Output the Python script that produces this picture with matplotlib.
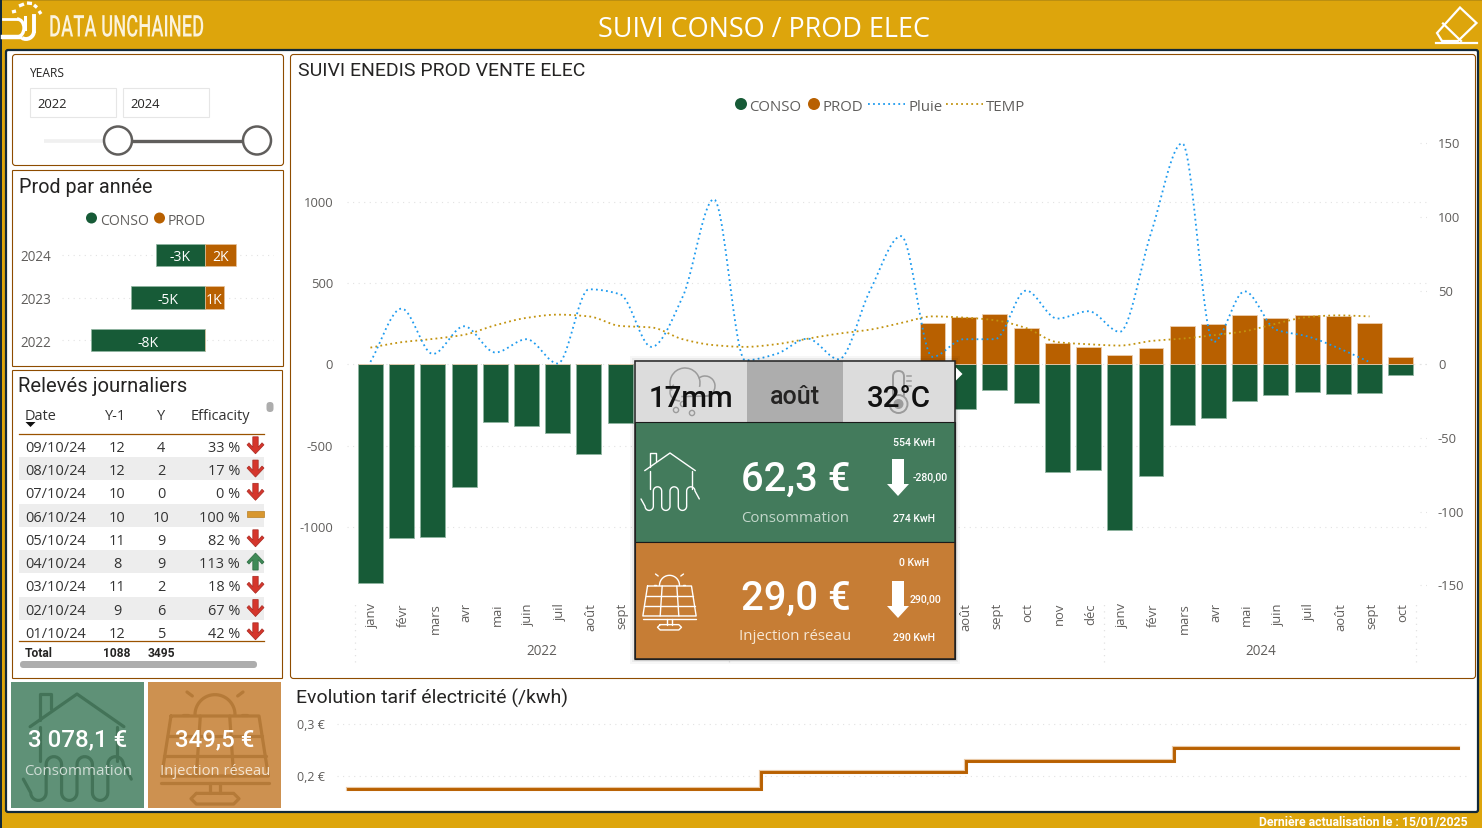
#!/usr/bin/env python3
"""
Suivi conso / prod elec dashboard
"""

import numpy as np
import pandas as pd
import matplotlib
matplotlib.use("Agg")
import matplotlib.pyplot as plt
import matplotlib.dates as mdates
import matplotlib.patheffects as pe
from matplotlib.patches import Rectangle, FancyBboxPatch, Circle, Arc, Polygon
from matplotlib.transforms import Affine2D, ScaledTranslation

W, H = 1482, 829

# main chart data
months = ["janv", "févr", "mars", "avr", "mai", "juin", "juil", "août", "sept", "oct", "nov", "déc"] * 2 + \
         ["janv", "févr", "mars", "avr", "mai", "juin", "juil", "août", "sept", "oct"]
conso = [-1347, -1070, -1064, -756, -357, -381, -424, -553, -363, -380, -600, -705,
         -900, -750, -520, -340, -260, -230, -200, -274, -160, -240, -664, -652,
         -1020, -689, -375, -332, -228, -191, -172, -185, -178, -68]
prod = [0, 0, 0, 0, 0, 0, 0, 0, 0, 0, 0, 0,
        0, 0, 0, 0, 0, 0, 256, 290, 309, 223, 129, 109,
        57, 98, 236, 246, 301, 285, 306, 297, 256, 45]
pluie = [1.6, 37.8, 7, 25.8, 8, 17, 0.5, 50.9, 47.5, 11.8, 45.7, 112,
         2.7, 7, 17.4, 3.4, 50, 87, 5, 17, 17, 50, 31, 36,
         22, 89, 150, 15, 49.5, 23.5, 19, 11, 1.5]
temp = [11.3, 15, 17.2, 20, 26.5, 31.5, 33.7, 32.5, 26, 25, 17, 13,
        11.8, 13.6, 17.4, 20.8, 23.5, 28, 32.5, 31.7, 29.9, 24.6, 15, 13.6,
        12.7, 15.8, 17.4, 19.7, 22.4, 27.6, 32, 33.2, 32.5]
# months whose axis labels sit under the tooltip in the picture
hidden_months = range(9, 19)
year_labels = ["2022", "2024"]
year_spans = [(-0.5, 11.5), (23.5, 33.5)]
year_seps = [-0.5, 11.5, 23.5, 33.5]
left_ticks = [-1000, -500, 0, 500, 1000]
right_ticks = [-150, -100, -50, 0, 50, 100, 150]

# prod par année
years = ["2022", "2023", "2024"]
year_conso = [-8000, -5190, -3438]
year_prod = [0, 1333, 2175]
year_conso_labels = ["-8K", "-5K", "-3K"]
year_prod_labels = ["", "1K", "2K"]

# relevés journaliers
dates = ["09/10/24", "08/10/24", "07/10/24", "06/10/24", "05/10/24", "04/10/24", "03/10/24", "02/10/24", "01/10/24"]
y_prev = [12, 12, 10, 10, 11, 8, 11, 9, 12]
y_cur = [4, 2, 0, 10, 9, 9, 2, 6, 5]
effic = [33, 17, 0, 100, 82, 113, 18, 67, 42]

# tarif
tarif_dates = ["2022-02-01", "2023-02-01", "2023-08-01", "2024-02-01", "2024-10-09"]
tarif_values = [0.175, 0.2065, 0.229, 0.2525, 0.2525]

GOLD = "#DDA50C"
FRAME = "#12293A"
BROWN = "#8E4C00"
GREEN = "#175B37"
ORANGE = "#B86000"
GREY = "#605E5C"
LIGHT = "#E2E2E2"
RAIN = "#1E9BEF"
TEMP = "#C2930F"
DIN = ["Roboto", "DejaVu Sans"]
SEGOE = ["Open Sans", "DejaVu Sans"]
DOTS = (0, (1, 1.8))


class Squeeze(pe.AbstractPathEffect):
    """narrow a text around x0, there is no condensed font installed"""

    def __init__(self, x0, sx):
        super().__init__()
        self.x0, self.sx = x0, sx

    def draw_path(self, renderer, gc, tpath, affine, rgbFace=None):
        narrow = Affine2D().translate(-self.x0, 0).scale(self.sx, 1).translate(self.x0, 0)
        renderer.draw_path(gc, tpath, affine + narrow, rgbFace)


def px_axes(fig, left, top, right, bottom, zorder=1):
    """axes placed by pixel box"""
    ax = fig.add_axes([left / W, 1 - bottom / H, (right - left) / W, (bottom - top) / H], zorder=zorder)
    ax.patch.set_alpha(0)
    return ax


def txt(ax, x, y, s, size, color="#252423", ha="center", family=SEGOE, weight="normal", **kw):
    return ax.text(x, y, s, fontsize=size * 0.72, color=color, ha=ha, va="center_baseline",
                   family=family, fontweight=weight, **kw)


def raise_labels(fig, labels, dy=1.0):
    """tick labels sit a pixel high in the picture"""
    up = ScaledTranslation(0, dy / 100, fig.dpi_scale_trans)
    for label in labels:
        label.set_transform(label.get_transform() + up)


def smooth(values):
    """monotone cubic through the monthly values, for the smoothed lines"""
    y = np.asarray(values, dtype=float)
    x = np.arange(len(y))
    d = np.diff(y)
    m = np.zeros(len(y))
    for i in range(1, len(y) - 1):
        if d[i - 1] * d[i] > 0:
            m[i] = 2 * d[i - 1] * d[i] / (d[i - 1] + d[i])
    m[0], m[-1] = d[0], d[-1]
    xs, ys = [], []
    for i in range(len(y) - 1):
        t = np.linspace(0, 1, 24, endpoint=False)
        ys.append((2*t**3 - 3*t**2 + 1) * y[i] + (t**3 - 2*t**2 + t) * m[i]
                  + (-2*t**3 + 3*t**2) * y[i + 1] + (t**3 - t**2) * m[i + 1])
        xs.append(x[i] + t)
    return np.append(np.concatenate(xs), x[-1]), np.append(np.concatenate(ys), y[-1])


def panel(ax, x0, y0, x1, y1, edge=BROWN, face="white", lw=0.8, rounding=3):
    # half pixel so the border stays crisp
    ax.add_patch(FancyBboxPatch((x0 + 0.5, y0 + 0.5), x1 - x0, y1 - y0, boxstyle=f"round,pad=0,rounding_size={rounding}",
                                fc=face, ec=edge, lw=lw))


def house(ax, cx, top, s, color, lw):
    """house with floor heating, local units from the roof apex"""
    def line(px, py):
        ax.plot(cx + np.asarray(px) * s, top + np.asarray(py) * s, color=color, lw=lw, solid_capstyle="round",
                solid_joinstyle="round")
    line([-76, 0, 76], [53, 0, 53])
    line([-60, -60, -42, -42], [42, 0, 0, 25])
    line([-60, -60], [53, 108])
    line([65, 65], [53, 108])
    # snake
    sx, sy = [-87], [138]
    cols = [-75, -50, -25, 0, 25, 50, 75]
    for i in range(6):
        a, b = cols[i], cols[i + 1]
        t = np.linspace(np.pi, 0, 12)
        mid = (a + b) / 2
        if i % 2 == 0:
            sx += list(mid + 12.5 * np.cos(t))
            sy += list(160 + 12.5 * np.sin(t))
        else:
            sx += list(mid + 12.5 * np.cos(t))
            sy += list(114 - 12.5 * np.sin(t))
    sx += [88]
    sy += [138]
    line(sx, sy)


def solar(ax, cx, top, s, color, lw):
    """solar panel, local units from the panel top centre"""
    def line(px, py):
        ax.plot(cx + np.asarray(px) * s, top + np.asarray(py) * s, color=color, lw=lw, solid_capstyle="round",
                solid_joinstyle="round")
    t = np.linspace(np.pi, 2 * np.pi, 30)
    line(30 * np.cos(t), 30 * np.sin(t) - 2)
    line([-48, -40], [-2, -2])
    line([40, 48], [-2, -2])
    line([-42, -34], [-36, -30])
    line([34, 42], [-30, -36])
    line([-66, 66, 80, -80, -66], [0, 0, 90, 90, 0])
    line([-71, 71], [30, 30])
    line([-76, 76], [60, 60])
    line([-81, 81], [100, 100])
    line([-22, -28], [0, 90])
    line([22, 28], [0, 90])
    line([-8, -8], [100, 116])
    line([8, 8], [100, 116])
    line([-28, 28, 36, 28, -28, -36, -28], [116, 116, 124, 132, 132, 124, 116])


def big_arrow(ax, cx, y0, y1, color="white"):
    ax.add_patch(Polygon([(cx - 6, y0), (cx + 6, y0), (cx + 6, y1 - 12), (cx + 11, y1 - 12), (cx, y1),
                          (cx - 11, y1 - 12), (cx - 6, y1 - 12)], fc=color, ec="none"))


def draw_logo(fig, ax):
    for seg in [((12, 13), (16, 12)), ((19, 7), (24, 5)), ((27, 4), (32, 4.5)), ((34, 6), (37, 8.5)), ((39, 12), (41, 15))]:
        ax.plot(*zip(*seg), color="white", lw=2.4, solid_capstyle="butt")
    ax.plot([3, 16], [20, 20], color="white", lw=2.0)
    ax.plot([3, 20], [37.5, 37.5], color="white", lw=3.2)
    ax.add_patch(Arc((17, 29), 14, 18, theta1=-90, theta2=90, color="white", lw=2.4))
    ax.plot([34, 34], [17, 32], color="white", lw=2.8)
    ax.add_patch(Arc((26, 32), 16, 16, theta1=0, theta2=120, color="white", lw=2.8))
    ax.plot([25, 25], [18, 30], color="white", lw=2.2)

    t = txt(ax, 49, 26.5, "DATA UNCHAINED", 30, "#FBF3DC", ha="left", family=DIN, weight="medium")
    width = t.get_window_extent(fig.canvas.get_renderer()).width
    t.set_path_effects([Squeeze(49, 155 / width)])


def draw_frame(fig, ax):
    ax.add_patch(Rectangle((0, 0), W, H, fc=GOLD, ec="none"))
    ax.add_patch(Rectangle((0, 0), W, 1.5, fc="#BC8F10", ec="none"))
    ax.add_patch(Rectangle((0, 0), 2, H, fc=FRAME, ec="none"))
    ax.add_patch(FancyBboxPatch((6, 51), 1472, 762, boxstyle="round,pad=0,rounding_size=2", fc="white", ec=FRAME, lw=1.6))

    draw_logo(fig, ax)
    txt(ax, 764, 26, "SUIVI CONSO / PROD ELEC", 27, "white")

    # eraser
    ax.add_patch(Polygon([(1460, 8.5), (1476.5, 24), (1458, 42), (1442, 42), (1437, 34)],
                         fc="none", ec="white", lw=1.6))
    ax.plot([1443, 1461], [24.5, 42], color="white", lw=1.6)
    ax.plot([1436, 1477], [43.5, 43.5], color="white", lw=1.6)

    txt(ax, 1468, 821, "Dernière actualisation le : 15/01/2025", 12.2, "white", ha="right", family=DIN, weight="bold")


def draw_slicer(ax):
    panel(ax, 12, 55, 283, 166)
    txt(ax, 30, 72, "YEARS", 12, "#252423", ha="left")
    for x0, label in [(29, "2022"), (122, "2024")]:
        ax.add_patch(Rectangle((x0 + 0.5, 88.5), 86, 29, fc="white", ec="#E6E6E6", lw=0.8))
        txt(ax, x0 + 8, 103, label, 13, "#252423", ha="left")
    ax.plot([44, 105], [141.5, 141.5], color="#F0F0F0", lw=2.6, solid_capstyle="butt")
    ax.plot([118, 257], [141.5, 141.5], color=GREY, lw=2.4, solid_capstyle="butt")
    for cx in (118, 257):
        ax.add_patch(Circle((cx, 141.5), 14, fc="white", ec=GREY, lw=1.8, zorder=3))


def draw_prod_panel(fig, ax):
    panel(ax, 12, 171, 283, 367, rounding=0.5)
    txt(ax, 19, 185, "Prod par année", 19.8, "#252423", ha="left", family=DIN)
    ax.add_patch(Circle((91.5, 219), 5.5, fc=GREEN, ec="none"))
    txt(ax, 100, 219, "CONSO", 14, GREY, ha="left")
    ax.add_patch(Circle((159.5, 219), 5.5, fc=ORANGE, ec="none"))
    txt(ax, 168, 219, "PROD", 14, GREY, ha="left")

    bx = px_axes(fig, 62, 235, 274, 362, zorder=2)
    pos = np.arange(len(years))
    bx.barh(pos, year_conso, height=0.53, color=GREEN, edgecolor="#8FB5A0", linewidth=0.5, zorder=3)
    bx.barh(pos, year_prod, height=0.53, color=ORANGE, edgecolor="#E6C29C", linewidth=0.5, zorder=3)
    for i in pos:
        txt(bx, year_conso[i] / 2, i, year_conso_labels[i], 14, "white", zorder=4)
        if year_prod_labels[i]:
            txt(bx, year_prod[i] / 2, i, year_prod_labels[i], 14, "white", zorder=4)
    bx.set_xlim(-10035, 4842)
    bx.set_ylim(-0.494, 2.494)
    bx.set_yticks(pos, years)
    bx.set_xticks([])
    bx.tick_params(axis="y", length=0, pad=7.5, labelsize=13.5 * 0.72, labelcolor=GREY)
    for label in bx.get_yticklabels():
        label.set_family(SEGOE)
    bx.grid(axis="y", color=LIGHT, lw=0.8, ls=(0, (1, 4)), zorder=0)
    bx.set_axisbelow(True)
    for sp in bx.spines.values():
        sp.set_visible(False)


def draw_table(ax):
    panel(ax, 12, 371, 282, 679, rounding=0.5)
    txt(ax, 18, 385, "Relevés journaliers", 20.3, "#252423", ha="left", family=DIN)
    txt(ax, 25, 415, "Date", 14.5, "#333333", ha="left")
    txt(ax, 116, 415, "Y-1", 14.5, "#333333")
    txt(ax, 161, 415, "Y", 14.5, "#333333")
    txt(ax, 220, 415, "Efficacity", 14.5, "#333333")
    ax.add_patch(Polygon([(25.5, 423), (35.5, 423), (30.5, 428)], fc="#111111", ec="none"))
    ax.add_patch(FancyBboxPatch((266.5, 403), 7, 10, boxstyle="round,pad=0,rounding_size=3.4", fc="#ADADAD", ec="none"))
    ax.plot([19, 264], [434.5, 434.5], color="#9A5200", lw=0.9)

    row_y = 446.3
    for i, d in enumerate(dates):
        y = row_y + i * 23.25
        if i % 2 == 1:
            ax.add_patch(Rectangle((19, y - 11.5), 245, 23.2, fc="#EDEDED", ec="none"))
        txt(ax, 25, y, d, 14.5, "#333333", ha="left")
        txt(ax, 117, y, str(y_prev[i]), 14.5, "#333333")
        txt(ax, 161, y, str(y_cur[i]), 14.5, "#333333")
        txt(ax, 240, y, f"{effic[i]} %", 14.5, "#333333", ha="right")
        cx = 255.5
        if effic[i] < 100:
            sign, fc, ec = 1, "#D5362C", "#A82820"
        elif effic[i] > 100:
            sign, fc, ec = -1, "#3F8A57", "#2C6A40"
        else:
            ax.add_patch(Rectangle((246.5, y - 4), 17.5, 5.5, fc="#D8972F", ec="#B87F25", lw=0.5))
            continue
        shape = [(-2.7, -8.5), (2.7, -8.5), (2.7, 2), (6.5, -2.5), (8.5, -0.5), (0, 8.5),
                 (-8.5, -0.5), (-6.5, -2.5), (-2.7, 2)]
        ax.add_patch(Polygon([(cx + a, y + sign * b) for a, b in shape], fc=fc, ec=ec, lw=0.5))

    ax.plot([19, 264], [641.5, 641.5], color="#9A5200", lw=0.9)
    txt(ax, 25, 651.7, "Total", 12, "#252423", ha="left", family=DIN, weight="bold")
    txt(ax, 117, 651.7, "1088", 12, "#252423", family=DIN, weight="bold")
    txt(ax, 161, 651.7, "3495", 12, "#252423", family=DIN, weight="bold")
    ax.add_patch(FancyBboxPatch((20, 662), 237, 7, boxstyle="round,pad=0,rounding_size=3.4", fc="#ADADAD", ec="none"))


def draw_kpis(ax):
    ax.add_patch(Rectangle((11, 683), 133, 126, fc="#5F9177", ec="none"))
    ax.add_patch(Rectangle((148, 683), 133, 126, fc="#CD9150", ec="none"))
    house(ax, 77, 695, 0.617, "#437358", 2.3)
    solar(ax, 215, 717, 0.667, "#B57A38", 2.3)
    txt(ax, 78, 737.5, "3 078,1 €", 24, "white", family=DIN, weight="medium")
    txt(ax, 78, 770, "Consommation", 15, "#CFDDD5")
    txt(ax, 215, 737.5, "349,5 €", 24, "white", family=DIN, weight="medium")
    txt(ax, 215, 770, "Injection réseau", 14.7, "#F3E3CF")


def draw_main_chart(fig, ax):
    panel(ax, 290, 55, 1475, 679)
    txt(ax, 298, 69, "SUIVI ENEDIS PROD VENTE ELEC", 19.5, "#252423", ha="left", family=DIN)

    # legend
    ax.add_patch(Circle((741, 105), 6, fc=GREEN, ec="none"))
    txt(ax, 749, 105.5, "CONSO", 15, GREY, ha="left")
    ax.add_patch(Circle((814, 105), 6, fc=ORANGE, ec="none"))
    txt(ax, 822, 105.5, "PROD", 15, GREY, ha="left")
    ax.plot([868, 905], [105, 105], color=RAIN, lw=1.3, ls=DOTS)
    txt(ax, 908, 105.5, "Pluie", 15, GREY, ha="left")
    ax.plot([946, 983], [105, 105], color=TEMP, lw=1.3, ls=DOTS)
    txt(ax, 986, 105.5, "TEMP", 15, GREY, ha="left")

    top, bottom = 126, 601
    mx = px_axes(fig, 347, top, 1427, bottom, zorder=2)
    pos = np.arange(len(months))
    mx.bar(pos, conso, width=0.8, color=GREEN, edgecolor="#8FB5A0", linewidth=0.6, zorder=3)
    mx.bar(pos, prod, width=0.8, color=ORANGE, edgecolor="#EBCDB0", linewidth=0.6, zorder=3)
    mx.set_xlim(-0.75, 33.84)
    mx.set_ylim(-1449.5, 1471.7)
    labels = ["" if i in hidden_months else m for i, m in enumerate(months)]
    mx.set_xticks(pos, labels, rotation=90)
    mx.set_yticks(left_ticks, [str(v) for v in left_ticks])
    mx.tick_params(axis="x", length=0, pad=1.5, labelsize=13 * 0.72, labelcolor=GREY)
    mx.tick_params(axis="y", length=0, pad=10, labelsize=13 * 0.72, labelcolor=GREY)
    shift = ScaledTranslation(1.5 / 72, 0, fig.dpi_scale_trans)
    for label in mx.get_xticklabels():
        label.set_family(SEGOE)
        label.set_va("top")
        label.set_transform(label.get_transform() + shift)
    for label in mx.get_yticklabels():
        label.set_family(SEGOE)
        label.set_va("center_baseline")
    raise_labels(fig, mx.get_yticklabels())
    mx.grid(axis="y", color=LIGHT, lw=0.8, ls=(0, (1, 4)), zorder=0)
    mx.set_axisbelow(True)
    for sp in mx.spines.values():
        sp.set_visible(False)

    # year level of the axis
    trans = mx.get_xaxis_transform()
    frac = lambda py: (bottom - py) / (bottom - top)
    for (a, b), label in zip(year_spans, year_labels):
        txt(mx, (a + b) / 2, frac(650), label, 13.5, GREY, transform=trans, clip_on=False)
    mx.vlines(year_seps, frac(663), frac(603), color=LIGHT, lw=0.9, ls=(0, (1, 4)), transform=trans, clip_on=False)

    rx = mx.twinx()
    rx.set_zorder(3)
    rx.patch.set_alpha(0)
    xs, ys = smooth(pluie)
    rx.plot(xs, ys, color=RAIN, lw=1.3, ls=DOTS, zorder=5)
    xs, ys = smooth(temp)
    rx.plot(xs, ys, color=TEMP, lw=1.3, ls=DOTS, zorder=4)
    rx.set_ylim(-160, 162.4)
    rx.set_yticks(right_ticks, [str(v) for v in right_ticks])
    rx.tick_params(axis="y", length=0, pad=7.9, labelsize=13 * 0.72, labelcolor=GREY)
    for label in rx.get_yticklabels():
        label.set_family(SEGOE)
        label.set_va("center_baseline")
    raise_labels(fig, rx.get_yticklabels())
    rx.hlines(right_ticks, 0.9935, 1, color=LIGHT, lw=0.8, ls=(0, (1, 4)), transform=rx.get_yaxis_transform())
    for sp in rx.spines.values():
        sp.set_visible(False)


def draw_tarif_chart(fig, ax):
    txt(ax, 296, 696.5, "Evolution tarif électricité (/kwh)", 19.5, "#252423", ha="left", family=DIN)
    tx = px_axes(fig, 337, 705, 1470, 806, zorder=2)
    d = mdates.date2num(pd.to_datetime(tarif_dates))
    tx.plot(d, tarif_values, drawstyle="steps-post", color="#E9C9A6", lw=3.0, solid_joinstyle="miter")
    tx.plot(d, tarif_values, drawstyle="steps-post", color=ORANGE, lw=2.1, solid_joinstyle="miter")
    per_px = (d[-1] - d[0]) / (1458 - 348)
    tx.set_xlim(d[0] - 11 * per_px, d[-1] + 12 * per_px)
    tx.set_ylim(0.2 - 29.3 / 520, 0.3 + 19.7 / 520)
    tx.set_xticks([])
    tx.set_yticks([0.2, 0.3], ["0,2 €", "0,3 €"])
    tx.tick_params(axis="y", length=0, pad=8.5, labelsize=12.5 * 0.72, labelcolor=GREY)
    for label in tx.get_yticklabels():
        label.set_family(SEGOE)
    raise_labels(fig, tx.get_yticklabels())
    tx.grid(axis="y", color=LIGHT, lw=0.8, ls=(0, (1, 4)), zorder=0)
    tx.set_axisbelow(True)
    for sp in tx.spines.values():
        sp.set_visible(False)


def draw_tooltip(ax):
    for grow, alpha in [(5, 0.03), (3, 0.05), (1.5, 0.08)]:
        ax.add_patch(Rectangle((635 - grow, 362 - grow), 320 + 2 * grow, 298 + 2 * grow, fc="black", ec="none", alpha=alpha))
    ax.add_patch(Rectangle((635, 362), 320, 61, fc="#DCDCDC", ec="none"))
    ax.add_patch(Rectangle((747, 362), 96, 61, fc="#ADADAD", ec="none"))
    ax.add_patch(Rectangle((635, 423), 320, 119.5, fc="#437B5C", ec="#1A1A1A", lw=0.8))
    ax.add_patch(Rectangle((635, 542.5), 320, 117.5, fc="#C67D35", ec="#1A1A1A", lw=0.8))
    ax.add_patch(Rectangle((635, 362), 320, 298, fc="none", ec="#222222", lw=1.1))
    ax.add_patch(Polygon([(956, 368.5), (962.5, 375), (956, 381.5)], fc="white", ec="none"))

    # cloud
    icon = "#9B9B9B"
    ax.add_patch(Arc((685, 384), 30, 30, theta1=150, theta2=15, color=icon, lw=1.1))
    ax.add_patch(Arc((705, 387), 20, 20, theta1=230, theta2=110, color=icon, lw=1.1))
    ax.add_patch(Arc((680, 393), 20, 18, theta1=90, theta2=230, color=icon, lw=1.1))
    ax.plot([682, 712], [397.5, 397], color=icon, lw=1.1)
    for dx, dy in [(676, 411), (692, 414), (683, 405)]:
        ax.add_patch(Circle((dx, dy), 2.6, fc="none", ec=icon, lw=1.0))
    # thermometer
    ax.add_patch(FancyBboxPatch((893, 372), 11, 28, boxstyle="round,pad=0,rounding_size=5.4", fc="none", ec=icon, lw=1.4))
    ax.add_patch(Circle((898.5, 405), 9, fc="#DCDCDC", ec=icon, lw=1.4))
    ax.add_patch(Circle((898.5, 405), 5, fc=icon, ec="none"))
    for ty in (377, 382, 387):
        ax.plot([907, 911], [ty, ty], color=icon, lw=1.1)

    txt(ax, 691, 396, "17mm", 29.5, "#111111", family=DIN, weight="medium")
    txt(ax, 795, 394, "août", 25, "#252423", family=DIN, weight="medium")
    txt(ax, 899, 396, "32°C", 29.5, "#111111", family=DIN, weight="medium")

    house(ax, 670, 454, 0.333, "white", 1.0)
    solar(ax, 669.5, 587, 0.333, "white", 1.0)

    txt(ax, 796, 476, "62,3 €", 40, "white", family=DIN, weight="medium")
    txt(ax, 795, 516, "Consommation", 15, "#C3D7CB")
    txt(ax, 914, 442, "554 KwH", 10.5, "white", family=DIN, weight="medium")
    big_arrow(ax, 898, 460, 497)
    txt(ax, 930, 477, "-280,00", 10.5, "white", family=DIN, weight="medium")
    txt(ax, 914, 518, "274 KwH", 10.5, "white", family=DIN, weight="medium")

    txt(ax, 796, 595, "29,0 €", 40, "white", family=DIN, weight="medium")
    txt(ax, 795, 635, "Injection réseau", 15, "#F6E7D4")
    txt(ax, 914, 562, "0 KwH", 10.5, "white", family=DIN, weight="medium")
    big_arrow(ax, 898, 582, 619)
    txt(ax, 925, 599, "290,00", 10.5, "white", family=DIN, weight="medium")
    txt(ax, 914, 637, "290 KwH", 10.5, "white", family=DIN, weight="medium")


def main():
    fig = plt.figure(figsize=(W / 100, H / 100), dpi=100)

    bg = px_axes(fig, 0, 0, W, H, zorder=0)
    bg.set_xlim(0, W)
    bg.set_ylim(H, 0)
    bg.axis("off")

    top = px_axes(fig, 0, 0, W, H, zorder=10)
    top.set_xlim(0, W)
    top.set_ylim(H, 0)
    top.axis("off")

    draw_frame(fig, bg)
    draw_slicer(bg)
    draw_prod_panel(fig, bg)
    draw_table(bg)
    draw_kpis(bg)
    draw_main_chart(fig, bg)
    draw_tarif_chart(fig, bg)
    draw_tooltip(top)

    fig.savefig("out.png", dpi=100)
    plt.close(fig)


if __name__ == "__main__":
    main()
